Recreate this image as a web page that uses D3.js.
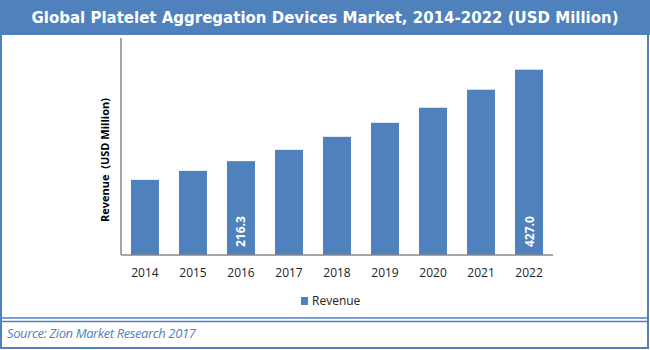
<!DOCTYPE html>
<html>
<head>
<meta charset="utf-8">
<script src="https://cdn.jsdelivr.net/npm/d3@7"></script>
<style>
  body { margin: 0; background: #fff; }
  svg { display: block; }
</style>
</head>
<body>
<div id="chart"></div>
<script>
// data van de grafiek
const years = ["2014", "2015", "2016", "2017", "2018", "2019", "2020", "2021", "2022"];
const revenue = [173.1, 193.9, 216.3, 242.3, 272.3, 304.6, 339.3, 380.8, 427.0];
const labelled = ["2016", "2022"];

const width = 650;
const height = 350;
const plot = {left: 121, right: 553, top: 38, bottom: 255};
const blue = "#4F81BD";

const svg = d3.select("#chart")
    .append("svg")
    .attr("width", width)
    .attr("height", height);

// titelbalk
svg.append("rect")
    .attr("x", 0).attr("y", 0)
    .attr("width", width).attr("height", 35)
    .attr("fill", blue);

svg.append("text")
    .attr("x", width / 2).attr("y", 23)
    .attr("text-anchor", "middle")
    .attr("fill", "#fff")
    .style("font-family", "'DejaVu Sans', sans-serif")
    .style("font-weight", "bold")
    .style("font-size", "15px")
    .text("Global Platelet Aggregation Devices Market, 2014-2022 (USD Million)");

// kader rond de grafiek
svg.append("path")
    .attr("d", "M1,35 V348 H648 V35")
    .attr("fill", "none")
    .attr("stroke", blue)
    .attr("stroke-width", 2);

svg.append("line")
    .attr("x1", 1).attr("x2", 648).attr("y1", 318).attr("y2", 318)
    .attr("stroke", blue).attr("stroke-width", 1.5);
svg.append("line")
    .attr("x1", 1).attr("x2", 648).attr("y1", 321.5).attr("y2", 321.5)
    .attr("stroke", blue).attr("stroke-width", 1.5);

svg.append("text")
    .attr("x", 7).attr("y", 338)
    .attr("fill", blue)
    .style("font-family", "'Open Sans', sans-serif")
    .style("font-style", "italic")
    .style("font-size", "13px")
    .style("letter-spacing", "-0.4px")
    .text("Source: Zion Market Research 2017");

// schalen
const xScale = d3.scaleBand()
    .domain(years)
    .range([plot.left, plot.right])
    .paddingInner(0.417)
    .paddingOuter(0.208);

const yScale = d3.scaleLinear()
    .domain([0, 500])
    .range([plot.bottom, plot.top]);

// staven
svg.append("g").selectAll("rect")
    .data(years)
    .enter().append("rect")
    .attr("x", d => xScale(d))
    .attr("y", (d, i) => yScale(revenue[i]))
    .attr("width", xScale.bandwidth())
    .attr("height", (d, i) => yScale(0) - yScale(revenue[i]))
    .attr("fill", blue);

// waarden in de staven
svg.append("g").selectAll("text")
    .data(years.filter(d => labelled.includes(d)))
    .enter().append("text")
    .attr("transform", d => "translate(" + (xScale(d) + xScale.bandwidth() / 2 + 4.5) + "," + (yScale(0) - 8) + ") rotate(-90)")
    .attr("fill", "#fff")
    .style("font-family", "'Open Sans', sans-serif")
    .style("font-weight", "bold")
    .style("font-size", "12px")
    .text(d => revenue[years.indexOf(d)].toFixed(1));

// assen
svg.append("line")
    .attr("x1", plot.left).attr("x2", plot.left)
    .attr("y1", plot.top).attr("y2", plot.bottom)
    .attr("stroke", "#898989").attr("stroke-width", 1.5);

const xAxis = svg.append("g")
    .attr("transform", "translate(0," + plot.bottom + ")")
    .call(d3.axisBottom(xScale).tickSize(0).tickPadding(13));
xAxis.select(".domain")
    .attr("stroke", "#898989").attr("stroke-width", 1.5)
    .attr("d", "M" + plot.left + ",0H" + plot.right);
xAxis.selectAll("text")
    .attr("fill", "#222")
    .style("font-family", "'Open Sans', sans-serif")
    .style("font-size", "12px");

// as-titel
svg.append("text")
    .attr("transform", "translate(109,160) rotate(-90)")
    .attr("text-anchor", "middle")
    .attr("fill", "#000")
    .style("font-family", "'Open Sans', sans-serif")
    .style("font-weight", "bold")
    .style("font-size", "11px")
    .style("white-space", "pre")
    .text("Revenue  (USD Million)");

// legenda
svg.append("rect")
    .attr("x", 301).attr("y", 297)
    .attr("width", 7).attr("height", 8)
    .attr("fill", blue);
svg.append("text")
    .attr("x", 312).attr("y", 305)
    .attr("fill", "#222")
    .style("font-family", "'Open Sans', sans-serif")
    .style("font-size", "12px")
    .text("Revenue");
</script>
</body>
</html>
